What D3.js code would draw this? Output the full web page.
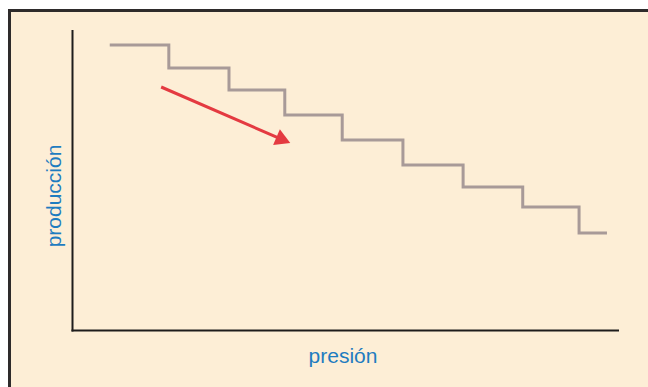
<!DOCTYPE html>
<html>
<head>
<meta charset="utf-8">
<script src="https://cdn.jsdelivr.net/npm/d3@7"></script>
<style>
  html, body { margin: 0; padding: 0; background: #ffffff; }
  svg { display: block; }
</style>
</head>
<body>
<script>
// Step breakpoints (presión, arbitrary units 0-100) and production levels (0-100)
const stepPressure = [6.9, 17.7, 28.7, 38.9, 49.4, 60.5, 71.5, 82.4, 92.7, 97.8];
const stepProduction = [95, 87.3, 80, 71.7, 63.3, 55, 47.7, 41, 32.3];
// Trend arrow (start, end) in data units
const arrowPressure = [16.3, 39.9];
const arrowProduction = [81, 62.3];
const xLabel = "presión";
const yLabel = "producción";

const W = 648, H = 387;
const svg = d3.select("body").append("svg").attr("width", W).attr("height", H);

// Frame (cut off at right/bottom)
svg.append("rect")
  .attr("x", 9.5).attr("y", 10.5).attr("width", 800).attr("height", 600)
  .attr("fill", "#fdeed6").attr("stroke", "#2e2b2b").attr("stroke-width", 3);

const x = d3.scaleLinear().domain([0, 100]).range([72, 619]);
const y = d3.scaleLinear().domain([0, 100]).range([330, 30]);

// Axes lines
const g = svg.append("g");
g.append("line")
  .attr("x1", x(0) + 0.5).attr("x2", x(0) + 0.5)
  .attr("y1", y(100)).attr("y2", y(0) + 1.5)
  .attr("stroke", "#1e1c1c").attr("stroke-width", 2);
g.append("line")
  .attr("x1", x(0) - 0.5).attr("x2", x(100))
  .attr("y1", y(0) + 0.5).attr("y2", y(0) + 0.5)
  .attr("stroke", "#1e1c1c").attr("stroke-width", 2);

// Step line
const pts = stepProduction.map((v, i) => [stepPressure[i], v]);
pts.push([stepPressure[stepPressure.length - 1], stepProduction[stepProduction.length - 1]]);
const line = d3.line().x(d => x(d[0])).y(d => y(d[1])).curve(d3.curveStepAfter);
svg.append("path")
  .attr("d", line(pts))
  .attr("fill", "none")
  .attr("stroke", "#a89a98")
  .attr("stroke-width", 3)
  .attr("stroke-linejoin", "miter");

// Arrow
const x0 = x(arrowPressure[0]), y0 = y(arrowProduction[0]);
const x1 = x(arrowPressure[1]), y1 = y(arrowProduction[1]);
const ang = Math.atan2(y1 - y0, x1 - x0);
const headLen = 15, headHalf = 8.5;
const bx = x1 - headLen * Math.cos(ang), by = y1 - headLen * Math.sin(ang);
svg.append("line")
  .attr("x1", x0).attr("y1", y0).attr("x2", bx + 2 * Math.cos(ang)).attr("y2", by + 2 * Math.sin(ang))
  .attr("stroke", "#e43a41").attr("stroke-width", 3);
const px = -Math.sin(ang), py = Math.cos(ang);
svg.append("path")
  .attr("d", `M${x1},${y1} L${bx + headHalf * px},${by + headHalf * py} L${bx - headHalf * px},${by - headHalf * py} Z`)
  .attr("fill", "#e43a41");

// Labels
svg.append("text")
  .attr("x", 343).attr("y", 363)
  .attr("text-anchor", "middle")
  .attr("font-family", "Liberation Sans, Arial, sans-serif")
  .attr("font-size", 21)
  .attr("fill", "#1f7cc0")
  .text(xLabel);
svg.append("text")
  .attr("transform", "translate(61,196) rotate(-90)")
  .attr("text-anchor", "middle")
  .attr("font-family", "Liberation Sans, Arial, sans-serif")
  .attr("font-size", 21)
  .attr("fill", "#1f7cc0")
  .text(yLabel);
</script>
</body>
</html>
